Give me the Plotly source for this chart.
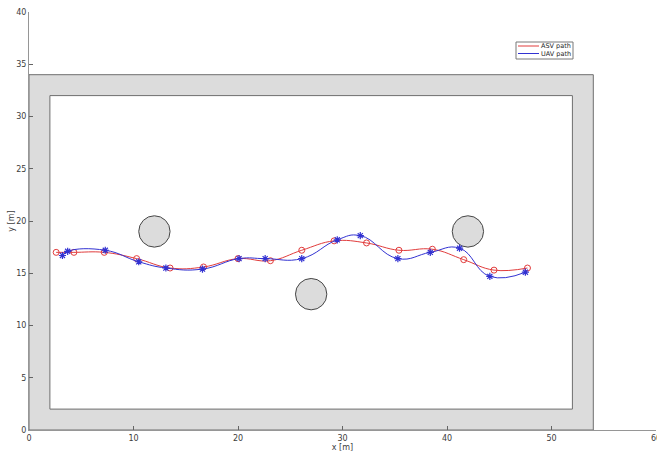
import plotly.graph_objects as go

# ---- data ----
asv_x = [2.6, 4.3, 7.2, 10.3, 13.5, 16.7, 20.0, 23.1, 26.1, 29.2, 32.3, 35.4, 38.6, 41.6, 44.5, 47.7]
asv_y = [17.0, 17.0, 17.0, 16.4, 15.5, 15.6, 16.4, 16.2, 17.2, 18.1, 17.9, 17.2, 17.3, 16.3, 15.3, 15.5]

uav_x = [3.2, 3.7, 7.3, 10.5, 13.1, 16.6, 20.1, 22.6, 26.1, 29.5, 31.7, 35.3, 38.4, 41.2, 44.1, 47.5]
uav_y = [16.7, 17.1, 17.2, 16.1, 15.5, 15.4, 16.4, 16.4, 16.4, 18.2, 18.6, 16.4, 17.0, 17.4, 14.7, 15.1]

series_names = ["ASV path", "UAV path"]

# workspace boundary (x0, x1, y0, y1)
outer_bound = [0, 54, 0, 34]
inner_bound = [2, 52, 2, 32]

# obstacles
obs_x = [12, 27, 42]
obs_y = [19, 13, 19]
obs_r = [1.5, 1.5, 1.5]

x_ticks = [0, 10, 20, 30, 40, 50, 60]
y_ticks = [0, 5, 10, 15, 20, 25, 30, 35, 40]

RED = "rgb(225,60,60)"
BLUE = "rgb(50,50,210)"
GRAY_EDGE = "rgb(110,110,110)"
GRAY_FILL = "rgb(220,220,220)"
TXT = "rgb(60,60,60)"
FONT = "DejaVu Sans"

W, H = 657, 456
ML, MR, MT, MB = 29, 1, 12, 26
PW, PH = W - ML - MR, H - MT - MB


def px2paper_x(px):
    return (px - ML) / PW


def px2paper_y(py):
    return (H - MB - py) / PH


fig = go.Figure()

shapes = [
    dict(type="rect", xref="x", yref="y",
         x0=outer_bound[0], x1=outer_bound[1], y0=outer_bound[2], y1=outer_bound[3],
         fillcolor=GRAY_FILL, line=dict(color=GRAY_EDGE, width=1), layer="below"),
    dict(type="rect", xref="x", yref="y",
         x0=inner_bound[0], x1=inner_bound[1], y0=inner_bound[2], y1=inner_bound[3],
         fillcolor="white", line=dict(color=GRAY_EDGE, width=1), layer="below"),
]
for cx, cy, r in zip(obs_x, obs_y, obs_r):
    shapes.append(dict(type="circle", xref="x", yref="y",
                       x0=cx - r, x1=cx + r, y0=cy - r, y1=cy + r,
                       fillcolor=GRAY_FILL, line=dict(color="rgb(70,70,70)", width=1),
                       layer="below"))

fig.add_trace(go.Scatter(
    x=asv_x, y=asv_y, mode="lines+markers", line_shape="spline", name=series_names[0],
    line=dict(color=RED, width=1, smoothing=1.2),
    marker=dict(symbol="circle-open", size=6, color=RED, line=dict(width=1, color=RED)),
    showlegend=False, hoverinfo="skip"))
fig.add_trace(go.Scatter(
    x=uav_x, y=uav_y, mode="lines+markers", line_shape="spline", name=series_names[1],
    line=dict(color=BLUE, width=1, smoothing=1.3),
    marker=dict(symbol="asterisk-open", size=6, color=BLUE, line=dict(width=1.2, color=BLUE)),
    showlegend=False, hoverinfo="skip"))

# compact legend box (drawn by hand to match the tight MATLAB legend)
shapes.append(dict(type="rect", xref="paper", yref="paper",
                   x0=px2paper_x(516), x1=px2paper_x(573),
                   y0=px2paper_y(59), y1=px2paper_y(42),
                   fillcolor="white", line=dict(color="rgb(120,120,120)", width=1),
                   layer="above"))
annotations = []
for name, col, py in zip(series_names, [RED, BLUE], [46, 53.5]):
    shapes.append(dict(type="line", xref="paper", yref="paper",
                       x0=px2paper_x(518), x1=px2paper_x(539),
                       y0=px2paper_y(py), y1=px2paper_y(py),
                       line=dict(color=col, width=1), layer="above"))
    annotations.append(dict(text=name, xref="paper", yref="paper",
                            x=px2paper_x(540), y=px2paper_y(py),
                            xanchor="left", yanchor="middle", showarrow=False,
                            borderpad=0,
                            font=dict(family=FONT, size=6.5, color="rgb(30,30,30)")))

axis_common = dict(
    showgrid=False, zeroline=False, showline=True, linecolor="rgb(150,150,150)",
    linewidth=1, ticks="inside", ticklen=4, tickcolor="rgb(100,100,100)",
    tickfont=dict(family=FONT, size=8, color=TXT),
    mirror=False, automargin=False, ticklabeloverflow="allow",
)

fig.update_layout(
    width=W, height=H,
    margin=dict(l=ML, r=MR, t=MT, b=MB, autoexpand=False),
    paper_bgcolor="white", plot_bgcolor="white",
    shapes=shapes, annotations=annotations,
    xaxis=dict(range=[0, 60], tickvals=x_ticks, **axis_common,
               title=dict(text="x [m]", font=dict(family=FONT, size=8, color=TXT),
                          standoff=0)),
    yaxis=dict(range=[0, 40], tickvals=y_ticks, **axis_common,
               title=dict(text="y [m]", font=dict(family=FONT, size=8, color=TXT),
                          standoff=0)),
    showlegend=False,
)

fig.write_html("out.html",
               config={"displayModeBar": False},
               post_script="document.body.style.margin='0';document.body.style.overflow='hidden';")
